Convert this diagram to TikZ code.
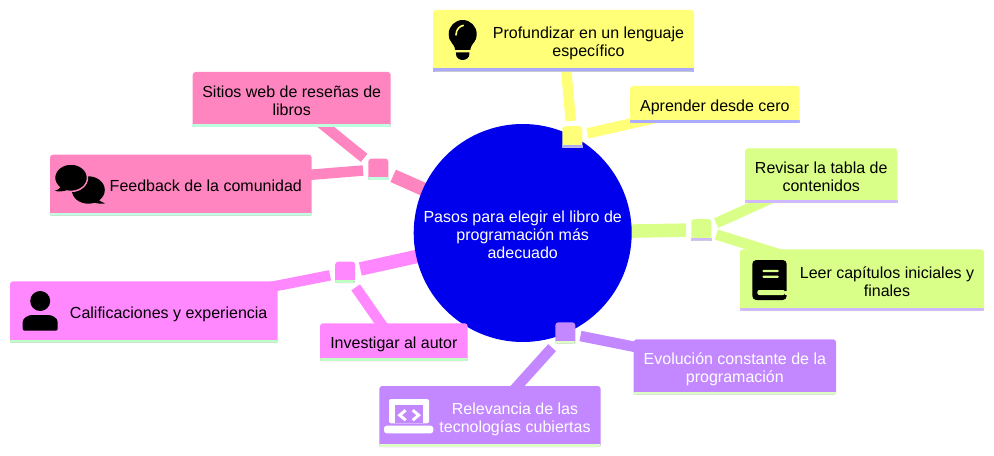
\documentclass[tikz,border=0pt]{standalone}
\usepackage{fontspec}
\setmainfont{Liberation Sans}
\usetikzlibrary{calc,backgrounds}
\definecolor{hubblue}{RGB}{0,0,236}
\definecolor{rosefill}{RGB}{255,133,192}
\definecolor{rosebar}{RGB}{190,255,223}
\definecolor{magentafill}{RGB}{255,136,255}
\definecolor{magentabar}{RGB}{190,255,196}
\definecolor{violetfill}{RGB}{195,136,255}
\definecolor{violetbar}{RGB}{222,255,196}
\definecolor{limefill}{RGB}{217,255,136}
\definecolor{limebar}{RGB}{208,184,255}
\definecolor{lemonfill}{RGB}{255,255,120}
\definecolor{lemonbar}{RGB}{170,170,255}
\tikzset{
    boxsize/.style 2 args={minimum width=#1*.75pt, minimum height=#2*.75pt},
    textdrop/.style={execute at begin node={\rule{0pt}{#1}}},
    wordsonly/.style={inner sep=0pt, align=center, font=\fontsize{12}{13.5}\selectfont,
        textdrop=13pt,
        execute at end node={\rule[-3pt]{0pt}{3pt}}},
    topic/.style 2 args={wordsonly, rectangle, rounded corners=2.25pt, fill=#1,
        path picture={\fill[#2, sharp corners] (path picture bounding box.south west) rectangle
                ($(path picture bounding box.south east)+(0,-3)$);},
        append after command={\pgfextra{
            \fill[#2, sharp corners] (\tikzlastnode.south west) rectangle
                ($(\tikzlastnode.south east)+(0,-3)$);}}},
    junction/.style 2 args={topic={#1}{#2}, boxsize={20}{20.3}},
    spoke/.style 2 args={draw=#1, line width=#2*.75pt, shorten <=3.75pt},
    bulbicon/.pic={
        \fill (0,-6) circle [radius=14];
        \fill (-13.5,-2) .. controls (-11,4) and (-8,5) .. (-7.5,10) -- (7.5,10)
            .. controls (8,5) and (11,4) .. (13.5,-2) -- cycle;
        \draw [lemonfill, line width=1.2pt, line cap=round] (-6.7,-5) .. controls (-6.7,-10) and (-3.5,-14) .. (.7,-14.6);
        \fill (-6.7,12.3) -- (6.7,12.3) -- (6.7,14) .. controls (6.7,18) and (3,20) .. (0,20)
            .. controls (-3,20) and (-6.7,18) .. (-6.7,14) -- cycle;
    },
    chaticon/.pic={
        \fill (8.8,6) ellipse [x radius=16.5, y radius=13.7];
        \fill (18,15) .. controls (20,17) and (23,18.5) .. (25.5,19.3) .. controls (23,20) and (18,20) .. (13,18) -- cycle;
        \filldraw [draw=rosefill, line width=1.1pt] (-8.5,-6.3) ellipse [x radius=16.5, y radius=13.7];
        \fill (-19,3) .. controls (-20,5) and (-22,6) .. (-24.5,6.7) .. controls (-22,8) and (-16,7.5) .. (-12,6) -- cycle;
    },
    usericon/.pic={
        \fill (0,-10) circle [radius=10];
        \fill [rounded corners=1.5pt] (-17.5,19.7) -- (-17.5,13) .. controls (-17.5,7) and (-12,4) .. (-6,4)
            -- (6,4) .. controls (12,4) and (17.5,7) .. (17.5,13) -- (17.5,19.7) -- cycle;
    },
    bookicon/.pic={
        \fill [rounded corners=3pt] (-17.2,-20) rectangle (17.2,20);
        \fill [limefill, rounded corners=1pt] (-7.2,-10.2) rectangle (9.5,-7.8);
        \fill [limefill, rounded corners=1pt] (-7.2,-4.5) rectangle (9.5,-2.1);
        \fill [limefill, rounded corners=1.5pt] (-12.2,10) rectangle (15.5,15);
        \fill [limefill] (15.5,10.5) rectangle (18,15);
    },
    laptopicon/.pic={
        \fill [white, rounded corners=1.5pt] (-19.7,7.1) -- (-19.7,-17.2) -- (20.3,-17.2) -- (20.3,7.1) -- cycle;
        \fill [violetfill] (-13.7,-11.2) rectangle (14.6,7.2);
        \fill [white, rounded corners=2pt] (-24.7,9.5) rectangle (24.6,17.1);
        \draw [white, line width=2.2pt] (-3,-6) -- (-9,-1) -- (-3,4);
        \draw [white, line width=2.2pt] (4,-6) -- (10,-1) -- (4,4);
    }
}
\begin{document}
\begin{tikzpicture}[x=.75pt, y=-.75pt]
    \useasboundingbox (0,0) rectangle (994,456);

    \node [wordsonly, textdrop=41.5pt, circle, fill=hubblue, text=white, minimum size=218*.75pt] (hub) at (522.7,233)
        {Pasos para elegir el libro de\\programación más\\adecuado};

    \node [topic={lemonfill}{lemonbar}, boxsize={261}{61.5}] (lenguaje) at (563.5,40.75) {};
    \node [wordsonly, textdrop=27pt] (lenguajetext) at (588.5,40.75) {Profundizar en un lenguaje\\específico};
    \node [topic={lemonfill}{lemonbar}, boxsize={169.7}{37}] (cero) at (714.85,104.5) {Aprender desde cero};
    \node [junction={lemonfill}{lemonbar}] (lemonjoint) at (572.3,136.85) {};

    \node [topic={limefill}{limebar}, textdrop=27pt, boxsize={152.3}{54.7}] (tabla) at (821.2,175.65) {Revisar la tabla de\\contenidos};
    \node [topic={limefill}{limebar}, boxsize={244}{61.7}] (capitulos) at (862,280.15) {};
    \node [wordsonly, textdrop=27pt] (capitulostext) at (887,280.15) {Leer capítulos iniciales y\\finales};
    \node [junction={limefill}{limebar}] (limejoint) at (701.3,229.85) {};

    \node [topic={violetfill}{violetbar}, textdrop=27pt, text=white, boxsize={202.3}{55.2}] (evolucion) at (734.85,366.9) {Evolución constante de la\\programación};
    \node [topic={violetfill}{violetbar}, boxsize={221.4}{61}] (relevancia) at (490,416.5) {};
    \node [wordsonly, textdrop=27pt, text=white] (relevanciatext) at (515,416.5) {Relevancia de las\\tecnologías cubiertas};
    \node [junction={violetfill}{violetbar}] (violetjoint) at (565.3,333) {};

    \node [topic={magentafill}{magentabar}, boxsize={267.7}{61.4}] (calificaciones) at (143.85,312) {};
    \node [wordsonly] (calificacionestext) at (168.7,312) {Calificaciones y experiencia};
    \node [topic={magentafill}{magentabar}, boxsize={147.7}{37.7}] (autor) at (393.85,342.15) {Investigar al autor};
    \node [junction={magentafill}{magentabar}] (magentajoint) at (345.2,272.35) {};

    \node [topic={rosefill}{rosebar}, textdrop=27pt, boxsize={198}{55}] (sitios) at (291.7,99.5) {Sitios web de reseñas de\\libros};
    \node [topic={rosefill}{rosebar}, boxsize={261.7}{61}] (feedback) at (180.85,185.2) {};
    \node [wordsonly] (feedbacktext) at (205.8,185.2) {Feedback de la comunidad};
    \node [junction={rosefill}{rosebar}] (rosejoint) at (378.3,169.3) {};

    \pic at (462.7,40) {bulbicon};
    \pic at (79.5,184) {chaticon};
    \pic at (40.2,311) {usericon};
    \pic at (769.5,280) {bookicon};
    \pic at (408.7,416.2) {laptopicon};

    \begin{scope}[on background layer]
        \draw [spoke={lemonfill}{13}] (lemonjoint) -- (hub.center);
        \draw [spoke={lemonfill}{10.5}] (lemonjoint) -- (lenguaje.center);
        \draw [spoke={lemonfill}{10.5}] (lemonjoint) -- (cero.center);
        \draw [spoke={limefill}{13.5}] (limejoint) -- (hub.center);
        \draw [spoke={limefill}{10.5}] (limejoint) -- (tabla.center);
        \draw [spoke={limefill}{10.5}] (limejoint) -- (capitulos.center);
        \draw [spoke={violetfill}{13}] (violetjoint) -- (hub.center);
        \draw [spoke={violetfill}{10.5}] (violetjoint) -- (evolucion.center);
        \draw [spoke={violetfill}{10.5}] (violetjoint) -- (relevancia.center);
        \draw [spoke={magentafill}{13.5}] (magentajoint) -- (hub.center);
        \draw [spoke={magentafill}{10.5}] (magentajoint) -- (calificaciones.center);
        \draw [spoke={magentafill}{10.5}] (magentajoint) -- (autor.center);
        \draw [spoke={rosefill}{13.5}] (rosejoint) -- (hub.center);
        \draw [spoke={rosefill}{10.5}] (rosejoint) -- (sitios.center);
        \draw [spoke={rosefill}{10.5}] (rosejoint) -- (feedback.center);
    \end{scope}
\end{tikzpicture}
\end{document}
